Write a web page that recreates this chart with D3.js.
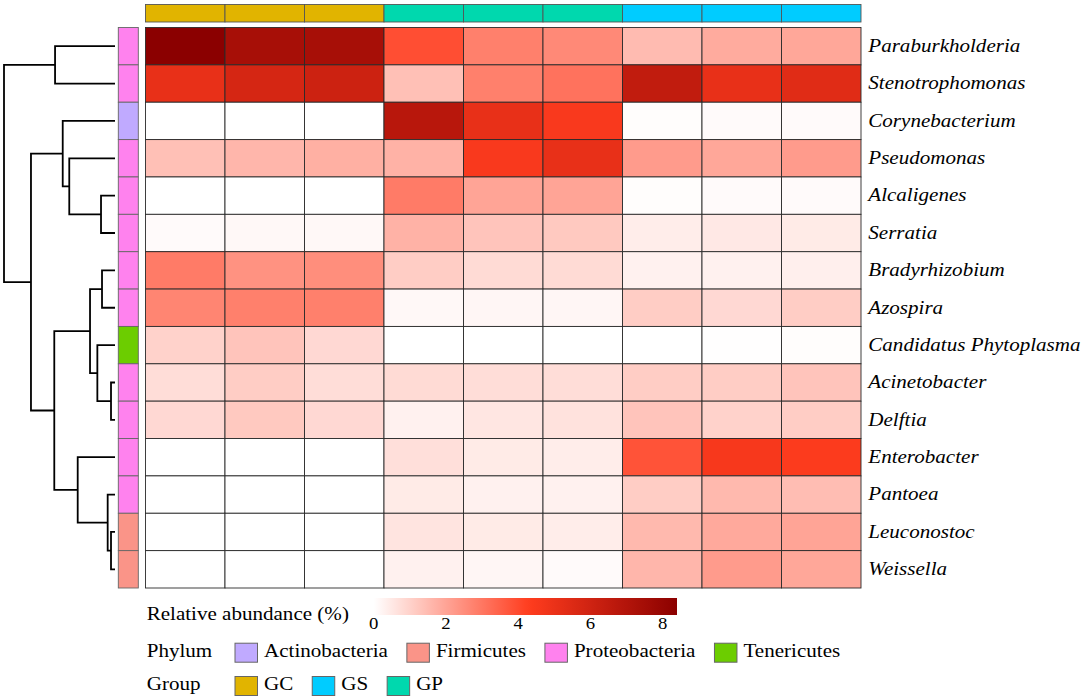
<!DOCTYPE html>
<html>
<head>
<meta charset="utf-8">
<script src="https://cdn.jsdelivr.net/npm/d3@7"></script>
<style>
  body { margin: 0; background: #fff; }
  text { font-family: "Liberation Serif", "Times New Roman", serif; }
</style>
</head>
<body>
<div id="chart-container"></div>
<script>
const genera = ['Paraburkholderia', 'Stenotrophomonas', 'Corynebacterium', 'Pseudomonas', 'Alcaligenes',
  'Serratia', 'Bradyrhizobium', 'Azospira', 'Candidatus Phytoplasma', 'Acinetobacter',
  'Delftia', 'Enterobacter', 'Pantoea', 'Leuconostoc', 'Weissella']
const samples = ['GC1', 'GC2', 'GC3', 'GP1', 'GP2', 'GP3', 'GS1', 'GS2', 'GS3']
const sampleGroup = ['GC', 'GC', 'GC', 'GP', 'GP', 'GP', 'GS', 'GS', 'GS']
const genusPhylum = ['Proteobacteria', 'Proteobacteria', 'Actinobacteria', 'Proteobacteria', 'Proteobacteria',
  'Proteobacteria', 'Proteobacteria', 'Proteobacteria', 'Tenericutes', 'Proteobacteria',
  'Proteobacteria', 'Proteobacteria', 'Proteobacteria', 'Firmicutes', 'Firmicutes']
// relative abundance (%), one row per genus, columns follow samples
const abundance = [
  [8.4, 7.4, 7.4, 3.9, 2.8, 2.6, 1.5, 1.85, 1.95],
  [5.1, 5.8, 6.1, 1.4, 2.8, 3.1, 6.5, 5.1, 5.4],
  [0, 0, 0, 6.8, 5.1, 4.5, 0.05, 0.1, 0.1],
  [1.4, 1.6, 1.75, 1.7, 4.5, 5.1, 2.2, 1.95, 2.2],
  [0, 0, 0, 2.9, 2.0, 2.0, 0.05, 0.1, 0.1],
  [0.1, 0.15, 0.15, 1.7, 1.3, 1.2, 0.4, 0.5, 0.45],
  [2.9, 2.4, 2.5, 1.1, 0.8, 0.8, 0.3, 0.3, 0.35],
  [2.7, 2.8, 2.8, 0.15, 0.2, 0.2, 1.1, 0.85, 1.1],
  [1.0, 1.3, 0.85, 0, 0, 0, 0, 0.02, 0.05],
  [0.75, 1.1, 0.75, 0.8, 0.75, 0.75, 1.1, 1.1, 1.3],
  [0.85, 1.2, 0.85, 0.3, 0.55, 0.65, 1.3, 1.0, 1.1],
  [0, 0, 0, 0.7, 0.45, 0.4, 3.8, 4.6, 4.4],
  [0, 0, 0, 0.45, 0.3, 0.3, 1.1, 1.55, 1.45],
  [0, 0, 0, 0.6, 0.45, 0.4, 1.55, 1.9, 2.0],
  [0, 0, 0, 0.3, 0.2, 0.1, 1.6, 2.2, 1.95]
]
// row clustering: [left, right, height]; 'nK' refers to the K-th merge
const rowMerges = [
  ['Paraburkholderia', 'Stenotrophomonas', 5.4],
  ['Alcaligenes', 'Serratia', 1.26],
  ['Pseudomonas', 'n1', 4.12],
  ['Corynebacterium', 'n2', 4.71],
  ['Bradyrhizobium', 'Azospira', 1.17],
  ['Acinetobacter', 'Delftia', 0.36],
  ['Candidatus Phytoplasma', 'n5', 1.59],
  ['n4', 'n6', 2.25],
  ['Leuconostoc', 'Weissella', 0.36],
  ['Pantoea', 'n8', 0.66],
  ['Enterobacter', 'n9', 3.36],
  ['n7', 'n10', 5.47],
  ['n3', 'n11', 7.57],
  ['n0', 'n12', 10]
]
const phyla = ['Actinobacteria', 'Firmicutes', 'Proteobacteria', 'Tenericutes']
const phylumColors = ['#c0aaff', '#fa9488', '#ff82ee', '#6ccd00']
const groups = ['GC', 'GS', 'GP']
const groupColors = ['#e1b400', '#00ccff', '#00d8ae']
const legendTicks = [0, 2, 4, 6, 8]

const width = 1084
const height = 699
const stretch = 1.17

const svg = d3.select('#chart-container')
  .append('svg')
  .attr('width', width)
  .attr('height', height)

const xScale = d3.scaleBand().domain(samples).range([145.5, 861])
const yScale = d3.scaleBand().domain(genera).range([27.5, 588])
const hScale = d3.scaleLinear().domain([0, 10]).range([115, 4])
const color = d3.scaleLinear()
  .domain([0, 4.3, 8.4])
  .range(['#ffffff', '#ff3c1e', '#8b0000'])
const phylumColor = d3.scaleOrdinal().domain(phyla).range(phylumColors)
const groupColor = d3.scaleOrdinal().domain(groups).range(groupColors)

// heatmap cells
const cells = []
abundance.forEach((row, i) => row.forEach((v, j) => cells.push({ genus: genera[i], sample: samples[j], value: v })))

svg.append('g')
  .selectAll('rect')
  .data(cells)
  .enter()
  .append('rect')
  .attr('x', d => xScale(d.sample))
  .attr('y', d => yScale(d.genus))
  .attr('width', xScale.bandwidth())
  .attr('height', yScale.bandwidth())
  .attr('fill', d => color(d.value))
  .attr('stroke', '#2a2a2a')
  .attr('stroke-width', 0.9)

// group annotation
svg.append('g')
  .selectAll('rect')
  .data(samples)
  .enter()
  .append('rect')
  .attr('x', d => xScale(d))
  .attr('y', 4.5)
  .attr('width', xScale.bandwidth())
  .attr('height', 17.5)
  .attr('fill', (d, i) => groupColor(sampleGroup[i]))
  .attr('stroke', '#555')
  .attr('stroke-width', 0.9)

// phylum annotation
svg.append('g')
  .selectAll('rect')
  .data(genera)
  .enter()
  .append('rect')
  .attr('x', 118.3)
  .attr('y', d => yScale(d))
  .attr('width', 20)
  .attr('height', yScale.bandwidth())
  .attr('fill', (d, i) => phylumColor(genusPhylum[i]))
  .attr('stroke', '#666')
  .attr('stroke-width', 0.9)

// row labels
svg.append('g')
  .selectAll('text')
  .data(genera)
  .enter()
  .append('text')
  .attr('transform', d => `translate(868.3,${yScale(d) + yScale.bandwidth() / 2}) scale(${stretch},1)`)
  .attr('dy', '0.32em')
  .style('font-size', '18px')
  .style('font-style', 'italic')
  .text(d => d)

// dendrogram
const pos = {}
genera.forEach(g => { pos[g] = { x: hScale(0), y: yScale(g) + yScale.bandwidth() / 2 } })
const dendro = svg.append('g')
  .attr('fill', 'none')
  .attr('stroke', '#000')
  .attr('stroke-width', 1.8)
rowMerges.forEach(([a, b, h], k) => {
  const pa = pos[a]
  const pb = pos[b]
  const x = hScale(h)
  pos['n' + k] = { x: x, y: (pa.y + pb.y) / 2 }
  dendro.append('path')
    .attr('d', `M${pa.x},${pa.y}H${x}V${pb.y}H${pb.x}`)
})

// colour key
const legendScale = d3.scaleLinear().domain([0, 8.4]).range([373.7, 677])
const grad = svg.append('defs').append('linearGradient').attr('id', 'abund')
d3.range(0, 8.41, 0.2).forEach(v => {
  grad.append('stop')
    .attr('offset', (v / 8.4 * 100) + '%')
    .attr('stop-color', color(v))
})
svg.append('rect')
  .attr('x', legendScale(0))
  .attr('y', 598)
  .attr('width', legendScale(8.4) - legendScale(0))
  .attr('height', 17)
  .attr('fill', 'url(#abund)')

svg.append('g')
  .selectAll('text')
  .data(legendTicks)
  .enter()
  .append('text')
  .attr('transform', d => `translate(${legendScale(d)},628.5) scale(${stretch},1)`)
  .attr('text-anchor', 'middle')
  .style('font-size', '16px')
  .text(d => d)

svg.append('text')
  .attr('transform', `translate(146.7,620) scale(${stretch},1)`)
  .style('font-size', '18px')
  .text('Relative abundance (%)')

// categorical keys
function drawKey (title, y, names, fill) {
  svg.append('text')
    .attr('transform', `translate(146.7,${y}) scale(${stretch},1)`)
    .style('font-size', '18px')
    .text(title)
  let x = 235
  names.forEach(n => {
    svg.append('rect')
      .attr('x', x)
      .attr('y', y - 13.5)
      .attr('width', 22.5)
      .attr('height', 19)
      .attr('fill', fill(n))
      .attr('stroke', '#666')
      .attr('stroke-width', 1)
    const t = svg.append('text')
      .attr('transform', `translate(${x + 29},${y}) scale(${stretch},1)`)
      .style('font-size', '18px')
      .text(n)
    x = x + 29 + t.node().getComputedTextLength() * stretch + 19
  })
}
drawKey('Phylum', 656.7, phyla, phylumColor)
drawKey('Group', 690, groups, groupColor)
</script>
</body>
</html>
